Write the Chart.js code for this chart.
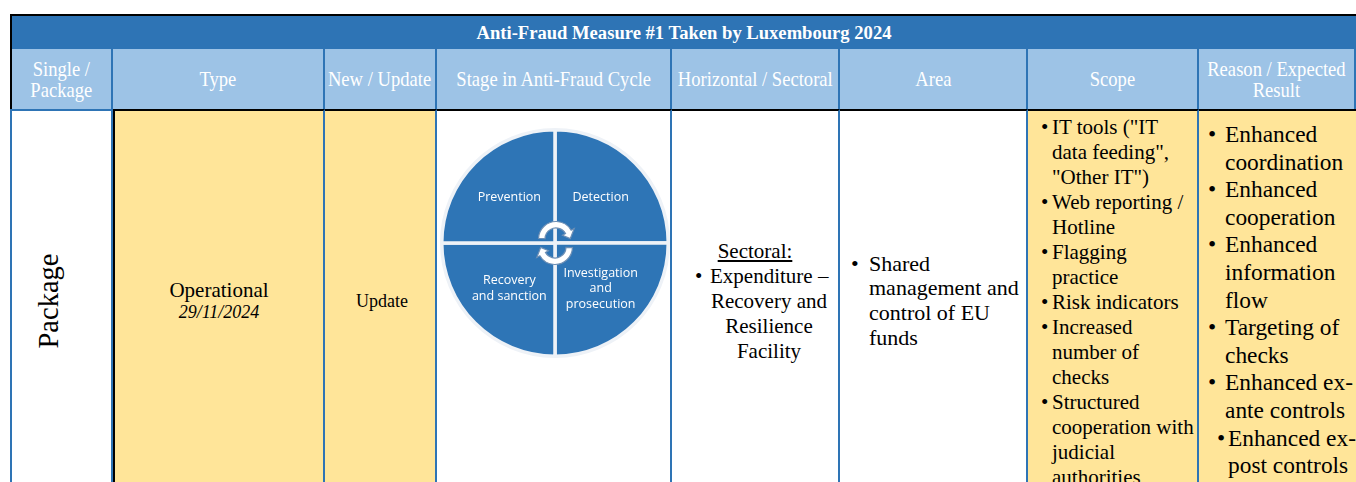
<!DOCTYPE html>
<html>
<head>
<meta charset="utf-8">
<script src="https://cdn.jsdelivr.net/npm/chart.js@4.4.1/dist/chart.umd.min.js"></script>
<style>
  html, body { margin: 0; padding: 0; width: 1356px; height: 482px; overflow: hidden; background: #fff; }
  #sheet { position: absolute; left: 0; top: 0; width: 1356px; height: 482px; font-family: "Liberation Serif", "Times New Roman", serif; color: #000; }
  .c { position: absolute; box-sizing: border-box; }
  .title { left: 10px; top: 14px; width: 1346px; height: 35px; background: #2e74b5; border-top: 2px solid #000; border-left: 2px solid #000;
           color: #fff; font-weight: bold; font-size: 18.6px; display: flex; align-items: center; justify-content: center; }
  .hd { top: 49px; height: 60px; background: #9dc3e6; border-right: 2px solid #2e74b5; color: #fff;
        display: flex; align-items: center; justify-content: center; text-align: center; }
  .hd span { display: inline-block; font-size: 20px; line-height: 20px; transform: scale(0.93, 1.05); white-space: nowrap; }
  .bd { top: 109px; height: 382px; border-right: 2px solid #2e74b5; border-top: 2px solid #000;
        display: flex; align-items: center; justify-content: center; }
  .yel { background: #ffe599; }
  ul { list-style: none; margin: 0; padding: 0; }
  li { position: relative; white-space: nowrap; }
  li::before { content: "\2022"; position: absolute; }
  #pieBox { position: absolute; left: 440px; top: 128px; width: 230px; height: 230px; }
  #sectList li::before { left: -15px; }
  #areaList li::before { left: -18px; }
  #scopeList li::before { left: -11px; }
  #reasonList li::before { left: -17px; }
  #reasonList li.last { margin-left: 3px; }
  #reasonList li.last::before { left: -11px; }
</style>
</head>
<body>
<div id="sheet">
  <div class="c title">Anti-Fraud Measure #1 Taken by Luxembourg 2024</div>

  <div class="c hd" style="left:10px;width:103px;border-left:2px solid #000;"><span>Single /<br>Package</span></div>
  <div class="c hd" style="left:113px;width:212px;"><span>Type</span></div>
  <div class="c hd" style="left:325px;width:112px;"><span>New / Update</span></div>
  <div class="c hd" style="left:437px;width:235px;"><span>Stage in Anti-Fraud Cycle</span></div>
  <div class="c hd" style="left:672px;width:168px;"><span>Horizontal / Sectoral</span></div>
  <div class="c hd" style="left:840px;width:188px;"><span>Area</span></div>
  <div class="c hd" style="left:1028px;width:171px;"><span>Scope</span></div>
  <div class="c hd" style="left:1199px;width:157px;"><span>Reason / Expected<br>Result</span></div>

  <!-- body row -->
  <div class="c bd" style="left:10px;width:103px;border-left:2px solid #2e74b5;border-top-color:#2e74b5;">
    <div style="transform:rotate(-90deg);font-size:28.5px;white-space:nowrap;margin-left:-24px;">Package</div>
  </div>
  <div class="c bd yel" style="left:113px;width:212px;border-left:2px solid #000;">
    <div style="text-align:center;line-height:22px;">
      <div style="font-size:21px;">Operational</div>
      <div style="font-size:18px;font-style:italic;">29/11/2024</div>
    </div>
  </div>
  <div class="c bd yel" style="left:325px;width:112px;">
    <div style="font-size:18px;margin-left:4px;">Update</div>
  </div>
  <div class="c bd" style="left:437px;width:235px;"></div>
  <div class="c bd" style="left:672px;width:168px;">
    <div style="font-size:21px;line-height:25px;text-align:center;width:100%;">
      <div style="text-decoration:underline;">Sectoral:</div>
      <ul id="sectList" style="padding-left:38px;padding-right:10px;">
        <li style="text-align:center;">Expenditure –<br>Recovery and<br>Resilience<br>Facility</li>
      </ul>
    </div>
  </div>
  <div class="c bd" style="left:840px;width:188px;justify-content:flex-start;">
    <ul id="areaList" style="font-size:22px;line-height:24.7px;padding-left:29px;">
      <li>Shared<br>management and<br>control of EU<br>funds</li>
    </ul>
  </div>
  <div class="c bd yel" style="left:1028px;width:171px;align-items:flex-start;justify-content:flex-start;padding-top:4px;overflow:hidden;">
    <ul id="scopeList" style="font-size:21px;line-height:25px;padding-left:24px;">
      <li>IT tools ("IT<br>data feeding",<br>"Other IT")</li>
      <li>Web reporting /<br>Hotline</li>
      <li>Flagging<br>practice</li>
      <li>Risk indicators</li>
      <li>Increased<br>number of<br>checks</li>
      <li>Structured<br>cooperation with<br>judicial<br>authorities</li>
    </ul>
  </div>
  <div class="c bd yel" style="left:1199px;width:157px;align-items:flex-start;justify-content:flex-start;padding-top:10px;border-right:none;overflow:hidden;">
    <ul id="reasonList" style="font-size:23.4px;line-height:27.6px;padding-left:26px;">
      <li>Enhanced<br>coordination</li>
      <li>Enhanced<br>cooperation</li>
      <li>Enhanced<br>information<br>flow</li>
      <li>Targeting of<br>checks</li>
      <li>Enhanced ex-<br>ante controls</li>
      <li class="last">Enhanced ex-<br>post controls</li>
    </ul>
  </div>

  <div id="pieBox"><canvas id="cycleChart" width="230" height="230"></canvas></div>
</div>

<script>
// ======== Anti-fraud cycle data ========
const stageLabels = ["Detection", "Investigation\nand\nprosecution", "Recovery\nand sanction", "Prevention"];
const stageShares = [25, 25, 25, 25];
const stageColor = "#2e75b6";

// ======== Slice labels ========
const sliceLabels = {
  id: "sliceLabels",
  afterDatasetsDraw(chart) {
    const { ctx } = chart;
    const meta = chart.getDatasetMeta(0);
    ctx.save();
    ctx.fillStyle = "#fff";
    ctx.font = "12.5px 'Open Sans'";
    ctx.textAlign = "center";
    ctx.textBaseline = "middle";
    meta.data.forEach((arc, i) => {
      const mid = (arc.startAngle + arc.endAngle) / 2;
      const r = arc.outerRadius * 0.57;
      const x = arc.x + Math.cos(mid) * r;
      const y = arc.y + Math.sin(mid) * r;
      const lines = chart.data.labels[i].split("\n");
      lines.forEach((t, j) => ctx.fillText(t, x, y + (j - (lines.length - 1) / 2) * 15.5));
    });
    ctx.restore();
  },
};

// ======== Circular arrows in the middle ========
function drawArrow(ctx, cx, cy, a0, a1) {
  const ri = 11, ro = 17.5, rm = (ri + ro) / 2;
  ctx.beginPath();
  ctx.arc(cx, cy, ro, a0, a1);
  ctx.lineTo(cx + Math.cos(a1) * (ro + 3.5), cy + Math.sin(a1) * (ro + 3.5));
  ctx.lineTo(cx + Math.cos(a1 + 0.5) * rm, cy + Math.sin(a1 + 0.5) * rm);
  ctx.lineTo(cx + Math.cos(a1) * (ri - 3.5), cy + Math.sin(a1) * (ri - 3.5));
  ctx.arc(cx, cy, ri, a1, a0, true);
  ctx.closePath();
  ctx.fillStyle = "#fff";
  ctx.fill();
  ctx.lineWidth = 1.2;
  ctx.strokeStyle = "#6d8fb5";
  ctx.stroke();
}

const cycleArrows = {
  id: "cycleArrows",
  afterDatasetsDraw(chart) {
    const arc = chart.getDatasetMeta(0).data[0];
    if (!arc) return;
    const { ctx } = chart;
    ctx.save();
    const d = Math.PI / 180;
    drawArrow(ctx, arc.x + 1, arc.y - 4, 182 * d, 330 * d);
    drawArrow(ctx, arc.x, arc.y + 4, 2 * d, 150 * d);
    ctx.restore();
  },
};

new Chart(document.getElementById("cycleChart").getContext("2d"), {
  type: "pie",
  data: {
    labels: stageLabels,
    datasets: [
      {
        data: stageShares,
        backgroundColor: stageColor,
        borderColor: "#eef2f7",
        borderWidth: 3.5,
      },
    ],
  },
  options: {
    responsive: false,
    animation: false,
    layout: { padding: 0 },
    plugins: { legend: { display: false }, tooltip: { enabled: false } },
  },
  plugins: [sliceLabels, cycleArrows],
});
</script>
</body>
</html>
